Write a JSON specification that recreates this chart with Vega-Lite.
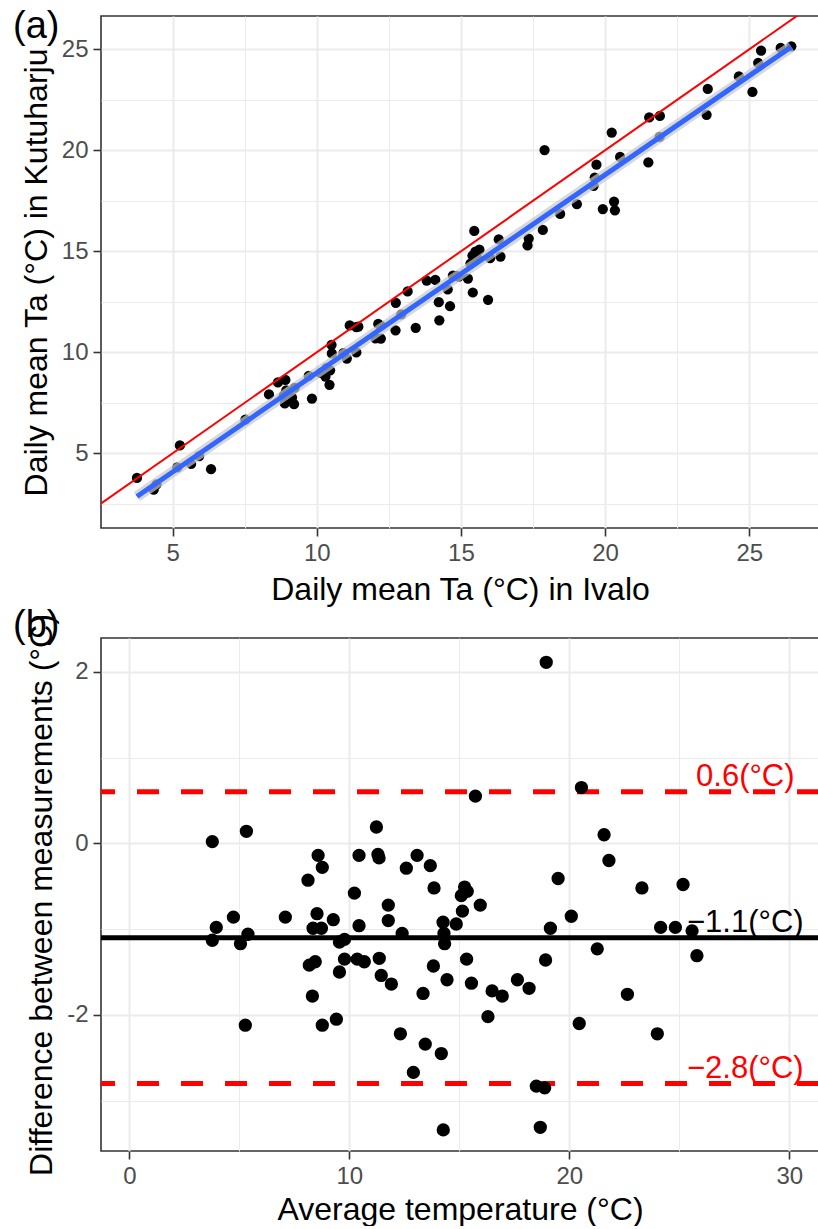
{
  "$schema": "https://vega.github.io/schema/vega-lite/v6.json",
  "background": "white",
  "padding": {"left": 12, "top": 7, "right": 0, "bottom": 0},
  "config": {
    "font": "Liberation Sans",
    "view": {"stroke": "#333333", "strokeWidth": 1.6},
    "axis": {
      "domain": false,
      "tickColor": "#333333",
      "tickWidth": 1.6,
      "tickSize": 8,
      "labelPadding": 5,
      "labelColor": "#4D4D4D",
      "labelFontSize": 24,
      "labelFont": "Liberation Sans",
      "titleFont": "Liberation Sans",
      "titleFontSize": 32,
      "titleFontWeight": "normal",
      "titleColor": "#000000",
      "titlePadding": 8,
      "gridColor": "#EBEBEB",
      "labelFlush": false,
      "labelOverlap": false
    },
    "title": {
      "font": "Liberation Sans",
      "fontSize": 38,
      "fontWeight": "normal",
      "color": "#000000",
      "anchor": "start",
      "frame": "group",
      "dx": -88,
      "offset": -30,
      "baseline": "alphabetic"
    }
  },
  "datasets": {
    "obs": [
      {"ivalo": 3.76, "kutu": 3.78, "avg": 3.77, "diff": 0.02},
      {"ivalo": 5.25, "kutu": 5.39, "avg": 5.32, "diff": 0.14},
      {"ivalo": 4.44, "kutu": 3.46, "avg": 3.95, "diff": -0.98},
      {"ivalo": 4.34, "kutu": 3.2, "avg": 3.77, "diff": -1.13},
      {"ivalo": 5.16, "kutu": 4.3, "avg": 4.73, "diff": -0.86},
      {"ivalo": 5.64, "kutu": 4.47, "avg": 5.05, "diff": -1.17},
      {"ivalo": 5.92, "kutu": 4.86, "avg": 5.39, "diff": -1.06},
      {"ivalo": 6.33, "kutu": 4.21, "avg": 5.27, "diff": -2.12},
      {"ivalo": 7.52, "kutu": 6.66, "avg": 7.09, "diff": -0.86},
      {"ivalo": 8.34, "kutu": 7.91, "avg": 8.12, "diff": -0.43},
      {"ivalo": 8.65, "kutu": 8.51, "avg": 8.58, "diff": -0.14},
      {"ivalo": 8.91, "kutu": 8.63, "avg": 8.77, "diff": -0.28},
      {"ivalo": 8.94, "kutu": 8.12, "avg": 8.53, "diff": -0.82},
      {"ivalo": 8.85, "kutu": 7.86, "avg": 8.35, "diff": -0.99},
      {"ivalo": 9.23, "kutu": 8.24, "avg": 8.73, "diff": -0.99},
      {"ivalo": 9.72, "kutu": 8.83, "avg": 9.27, "diff": -0.89},
      {"ivalo": 10.13, "kutu": 8.98, "avg": 9.55, "diff": -1.15},
      {"ivalo": 10.34, "kutu": 9.22, "avg": 9.78, "diff": -1.12},
      {"ivalo": 8.89, "kutu": 7.47, "avg": 8.18, "diff": -1.42},
      {"ivalo": 9.14, "kutu": 7.76, "avg": 8.45, "diff": -1.38},
      {"ivalo": 9.21, "kutu": 7.43, "avg": 8.32, "diff": -1.78},
      {"ivalo": 10.3, "kutu": 8.8, "avg": 9.55, "diff": -1.5},
      {"ivalo": 10.46, "kutu": 9.11, "avg": 9.78, "diff": -1.35},
      {"ivalo": 11.04, "kutu": 9.69, "avg": 10.36, "diff": -1.35},
      {"ivalo": 11.37, "kutu": 9.99, "avg": 10.68, "diff": -1.38},
      {"ivalo": 9.83, "kutu": 7.71, "avg": 8.77, "diff": -2.12},
      {"ivalo": 10.44, "kutu": 8.39, "avg": 9.41, "diff": -2.05},
      {"ivalo": 10.52, "kutu": 9.94, "avg": 10.23, "diff": -0.58},
      {"ivalo": 10.51, "kutu": 10.37, "avg": 10.44, "diff": -0.14},
      {"ivalo": 10.92, "kutu": 9.96, "avg": 10.44, "diff": -0.96},
      {"ivalo": 11.14, "kutu": 11.33, "avg": 11.23, "diff": 0.19},
      {"ivalo": 11.37, "kutu": 11.24, "avg": 11.3, "diff": -0.13},
      {"ivalo": 11.44, "kutu": 11.27, "avg": 11.35, "diff": -0.17},
      {"ivalo": 12.03, "kutu": 10.69, "avg": 11.36, "diff": -1.34},
      {"ivalo": 12.22, "kutu": 10.68, "avg": 11.45, "diff": -1.54},
      {"ivalo": 12.13, "kutu": 11.41, "avg": 11.77, "diff": -0.72},
      {"ivalo": 12.22, "kutu": 11.32, "avg": 11.77, "diff": -0.9},
      {"ivalo": 12.73, "kutu": 11.09, "avg": 11.91, "diff": -1.64},
      {"ivalo": 12.93, "kutu": 11.88, "avg": 12.4, "diff": -1.05},
      {"ivalo": 12.74, "kutu": 12.45, "avg": 12.59, "diff": -0.29},
      {"ivalo": 13.15, "kutu": 13.01, "avg": 13.08, "diff": -0.14},
      {"ivalo": 13.81, "kutu": 13.55, "avg": 13.68, "diff": -0.26},
      {"ivalo": 14.11, "kutu": 13.59, "avg": 13.85, "diff": -0.52},
      {"ivalo": 13.43, "kutu": 11.21, "avg": 12.32, "diff": -2.22},
      {"ivalo": 14.25, "kutu": 11.58, "avg": 12.91, "diff": -2.67},
      {"ivalo": 14.23, "kutu": 12.48, "avg": 13.35, "diff": -1.75},
      {"ivalo": 14.62, "kutu": 12.28, "avg": 13.45, "diff": -2.34},
      {"ivalo": 14.54, "kutu": 13.11, "avg": 13.82, "diff": -1.43},
      {"ivalo": 15.41, "kutu": 12.96, "avg": 14.18, "diff": -2.45},
      {"ivalo": 14.72, "kutu": 13.8, "avg": 14.26, "diff": -0.92},
      {"ivalo": 14.83, "kutu": 13.78, "avg": 14.3, "diff": -1.05},
      {"ivalo": 14.92, "kutu": 13.75, "avg": 14.33, "diff": -1.17},
      {"ivalo": 15.94, "kutu": 12.6, "avg": 14.27, "diff": -3.34},
      {"ivalo": 15.24, "kutu": 13.65, "avg": 14.44, "diff": -1.59},
      {"ivalo": 15.33, "kutu": 14.39, "avg": 14.86, "diff": -0.94},
      {"ivalo": 15.54, "kutu": 14.75, "avg": 15.14, "diff": -0.79},
      {"ivalo": 15.4, "kutu": 14.79, "avg": 15.09, "diff": -0.61},
      {"ivalo": 15.5, "kutu": 14.99, "avg": 15.24, "diff": -0.51},
      {"ivalo": 15.64, "kutu": 15.08, "avg": 15.36, "diff": -0.56},
      {"ivalo": 16.01, "kutu": 14.66, "avg": 15.33, "diff": -1.35},
      {"ivalo": 16.37, "kutu": 14.74, "avg": 15.55, "diff": -1.63},
      {"ivalo": 15.46, "kutu": 16.01, "avg": 15.73, "diff": 0.55},
      {"ivalo": 16.31, "kutu": 15.59, "avg": 15.95, "diff": -0.72},
      {"ivalo": 17.31, "kutu": 15.29, "avg": 16.3, "diff": -2.02},
      {"ivalo": 17.35, "kutu": 15.63, "avg": 16.49, "diff": -1.72},
      {"ivalo": 17.84, "kutu": 16.06, "avg": 16.95, "diff": -1.78},
      {"ivalo": 18.44, "kutu": 16.85, "avg": 17.64, "diff": -1.59},
      {"ivalo": 19.02, "kutu": 17.33, "avg": 18.17, "diff": -1.69},
      {"ivalo": 19.92, "kutu": 17.09, "avg": 18.5, "diff": -2.83},
      {"ivalo": 20.31, "kutu": 17.46, "avg": 18.88, "diff": -2.85},
      {"ivalo": 20.34, "kutu": 17.03, "avg": 18.68, "diff": -3.31},
      {"ivalo": 19.6, "kutu": 18.24, "avg": 18.92, "diff": -1.36},
      {"ivalo": 17.9, "kutu": 20.01, "avg": 18.95, "diff": 2.11},
      {"ivalo": 19.64, "kutu": 18.65, "avg": 19.14, "diff": -0.99},
      {"ivalo": 19.7, "kutu": 19.29, "avg": 19.49, "diff": -0.41},
      {"ivalo": 20.52, "kutu": 19.67, "avg": 20.09, "diff": -0.85},
      {"ivalo": 21.5, "kutu": 19.4, "avg": 20.45, "diff": -2.1},
      {"ivalo": 20.23, "kutu": 20.88, "avg": 20.55, "diff": 0.65},
      {"ivalo": 21.89, "kutu": 20.66, "avg": 21.27, "diff": -1.23},
      {"ivalo": 21.53, "kutu": 21.63, "avg": 21.58, "diff": 0.1},
      {"ivalo": 21.9, "kutu": 21.7, "avg": 21.8, "diff": -0.2},
      {"ivalo": 23.52, "kutu": 21.76, "avg": 22.64, "diff": -1.76},
      {"ivalo": 23.56, "kutu": 23.04, "avg": 23.3, "diff": -0.52},
      {"ivalo": 25.11, "kutu": 22.89, "avg": 24.0, "diff": -2.22},
      {"ivalo": 24.64, "kutu": 23.66, "avg": 24.15, "diff": -0.98},
      {"ivalo": 25.31, "kutu": 24.33, "avg": 24.82, "diff": -0.98},
      {"ivalo": 25.41, "kutu": 24.93, "avg": 25.17, "diff": -0.48},
      {"ivalo": 26.09, "kutu": 25.07, "avg": 25.58, "diff": -1.02},
      {"ivalo": 26.46, "kutu": 25.15, "avg": 25.8, "diff": -1.31}
    ],
    "limits": [
      {"stat": "upper", "diff": 0.6, "label": "0.6(°C)"},
      {"stat": "mean", "diff": -1.1, "label": "−1.1(°C)"},
      {"stat": "lower", "diff": -2.8, "label": "−2.8(°C)"}
    ]
  },
  "spacing": 110,
  "bounds": "flush",
  "vconcat": [
    {
      "width": 718,
      "height": 512,
      "title": {"text": "(a)"},
      "data": {"name": "obs"},
      "encoding": {
        "x": {
          "field": "ivalo",
          "type": "quantitative",
          "scale": {"domain": [2.513, 27.42], "nice": false, "zero": false},
          "axis": {
            "title": "Daily mean Ta (°C) in Ivalo",
            "values": [5, 7.5, 10, 12.5, 15, 17.5, 20, 22.5, 25],
            "labelExpr": "datum.value % 5 === 0 ? datum.label : ''",
            "gridWidth": {"condition": {"test": "datum.value % 5 === 0", "value": 2}, "value": 1},
            "tickOpacity": {"condition": {"test": "datum.value % 5 === 0", "value": 1}, "value": 0},
            "titlePadding": 9
          }
        },
        "y": {
          "field": "kutu",
          "type": "quantitative",
          "scale": {"domain": [1.3, 26.65], "nice": false, "zero": false},
          "axis": {
            "title": "Daily mean Ta (°C) in Kutuharju",
            "values": [2.5, 5, 7.5, 10, 12.5, 15, 17.5, 20, 22.5, 25],
            "labelExpr": "datum.value % 5 === 0 ? datum.label : ''",
            "gridWidth": {"condition": {"test": "datum.value % 5 === 0", "value": 2}, "value": 1},
            "tickOpacity": {"condition": {"test": "datum.value % 5 === 0", "value": 1}, "value": 0}
          }
        }
      },
      "layer": [
        {
          "mark": {"type": "circle", "size": 105, "color": "#000000", "opacity": 1, "clip": true}
        },
        {
          "transform": [{"regression": "kutu", "on": "ivalo"}],
          "mark": {"type": "line", "color": "#C8C8C8", "strokeWidth": 11, "opacity": 0.7, "strokeCap": "butt", "clip": true}
        },
        {
          "transform": [{"regression": "kutu", "on": "ivalo"}],
          "mark": {"type": "line", "color": "#3366FF", "strokeWidth": 5, "strokeCap": "butt", "clip": true}
        },
        {
          "data": {"values": [{"ivalo": 0, "kutu": 0}, {"ivalo": 30, "kutu": 30}]},
          "mark": {"type": "line", "color": "#FF0000", "strokeWidth": 2, "clip": true}
        }
      ]
    },
    {
      "width": 718,
      "height": 513,
      "title": {"text": "(b)", "offset": -31},
      "layer": [
        {
          "data": {"name": "limits"},
          "mark": {"type": "rule", "strokeWidth": 5, "clip": true},
          "encoding": {
            "y": {
              "field": "diff",
              "type": "quantitative",
              "scale": {"domain": [-3.586, 2.393], "nice": false, "zero": false},
              "axis": {
                "title": "Difference between measurements (°C)",
                "values": [-3, -2, -1, 0, 1, 2],
                "labelExpr": "datum.value % 2 === 0 ? toString(datum.value) : ''",
                "gridWidth": {"condition": {"test": "datum.value % 2 === 0", "value": 2}, "value": 1},
                "tickOpacity": {"condition": {"test": "datum.value % 2 === 0", "value": 1}, "value": 0}
              }
            },
            "color": {
              "field": "stat",
              "type": "nominal",
              "scale": {"domain": ["upper", "mean", "lower"], "range": ["#FF0000", "#000000", "#FF0000"]},
              "legend": null
            },
            "strokeDash": {
              "field": "stat",
              "type": "nominal",
              "scale": {"domain": ["upper", "mean", "lower"], "range": [[22, 22], [1, 0], [22, 22]]},
              "legend": null
            }
          }
        },
        {
          "data": {"name": "obs"},
          "mark": {"type": "circle", "size": 177, "color": "#000000", "opacity": 1, "clip": true},
          "encoding": {
            "x": {
              "field": "avg",
              "type": "quantitative",
              "scale": {"domain": [-1.29, 31.35], "nice": false, "zero": false},
              "axis": {
                "title": "Average temperature (°C)",
                "values": [0, 5, 10, 15, 20, 25, 30],
                "labelExpr": "datum.value % 10 === 0 ? toString(datum.value) : ''",
                "gridWidth": {"condition": {"test": "datum.value % 10 === 0", "value": 2}, "value": 1},
                "tickOpacity": {"condition": {"test": "datum.value % 10 === 0", "value": 1}, "value": 0},
                "titlePadding": 6
              }
            },
            "y": {
              "field": "diff",
              "type": "quantitative",
              "scale": {"domain": [-3.586, 2.393], "nice": false, "zero": false},
              "axis": {
                "title": "Difference between measurements (°C)",
                "values": [-3, -2, -1, 0, 1, 2],
                "labelExpr": "datum.value % 2 === 0 ? toString(datum.value) : ''",
                "gridWidth": {"condition": {"test": "datum.value % 2 === 0", "value": 2}, "value": 1},
                "tickOpacity": {"condition": {"test": "datum.value % 2 === 0", "value": 1}, "value": 0}
              }
            }
          }
        },
        {
          "data": {"name": "limits"},
          "mark": {"type": "text", "fontSize": 31, "align": "center", "baseline": "alphabetic", "dy": -6, "font": "Liberation Sans"},
          "encoding": {
            "x": {"datum": 28, "type": "quantitative"},
            "y": {"field": "diff", "type": "quantitative"},
            "text": {"field": "label"},
            "color": {
              "field": "stat",
              "type": "nominal",
              "scale": {"domain": ["upper", "mean", "lower"], "range": ["#FF0000", "#000000", "#FF0000"]},
              "legend": null
            }
          }
        }
      ]
    }
  ]
}
